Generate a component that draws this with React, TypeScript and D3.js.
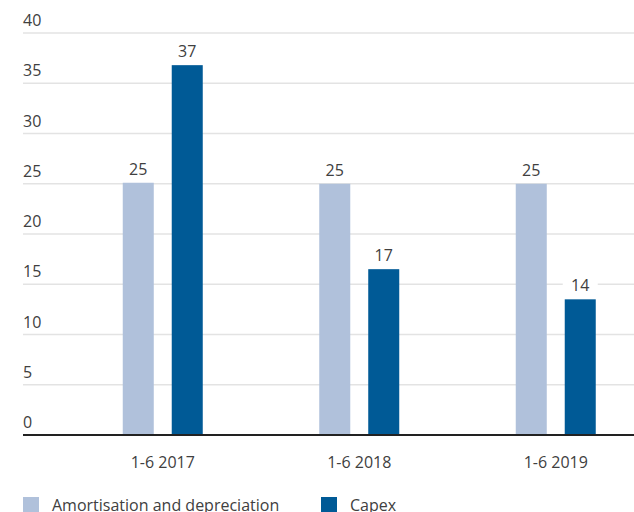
import React from "react";
import * as d3 from "d3";

const categories = ["1-6 2017", "1-6 2018", "1-6 2019"];
const seriesNames = ["Amortisation and depreciation", "Capex"];
const amortisation = [25.1, 25, 25];
const capex = [36.8, 16.5, 13.5];
const yTicks = [0, 5, 10, 15, 20, 25, 30, 35, 40];
const colors = ["#b0c1db", "#005a96"];

const W = 634;
const H = 512;
const FONT = "'Open Sans', sans-serif";
const TEXT = "#404040";

export default function App() {
  const y = d3.scaleLinear().domain([0, 40]).range([435, 33]);
  const x0 = d3.scaleBand<string>().domain(categories).range([64.5, 654]).padding(0);
  const x1 = d3
    .scaleBand<string>()
    .domain(seriesNames)
    .range([-40, 40])
    .paddingInner(0.367)
    .paddingOuter(0);
  const seriesValues = [amortisation, capex];

  return (
    <svg
      width={W}
      height={H}
      style={{ position: "absolute", left: 0, top: 0, display: "block" }}
      fontFamily={FONT}
    >
      <rect width={W} height={H} fill="#fff" />
      {yTicks.map((t) => (
        <g key={t}>
          {t !== 0 && (
            <line x1={23} x2={W} y1={y(t)} y2={y(t)} stroke="#e3e3e3" strokeWidth={1.3} />
          )}
          <text x={23} y={y(t) - 7} fontSize={16} fill={TEXT}>
            {t}
          </text>
        </g>
      ))}
      {categories.map((c, i) => {
        const cx = (x0(c) as number) + x0.bandwidth() / 2;
        return (
          <g key={c}>
            {seriesNames.map((s, j) => {
              const v = seriesValues[j][i];
              const bx = cx + (x1(s) as number);
              const bw = x1.bandwidth();
              return (
                <g key={s}>
                  <rect x={bx} y={y(v)} width={bw} height={y(0) - y(v)} fill={colors[j]} />
                  <rect x={bx - 2} y={y(v) - 26} width={bw + 4} height={20} fill="#fff" />
                  <text
                    x={bx + bw / 2}
                    y={y(v) - 8}
                    textAnchor="middle"
                    fontSize={16}
                    fill={TEXT}
                  >
                    {Math.round(v)}
                  </text>
                </g>
              );
            })}
            <text x={cx} y={468} textAnchor="middle" fontSize={16} fill={TEXT}>
              {c}
            </text>
          </g>
        );
      })}
      <line x1={23} x2={W} y1={y(0)} y2={y(0)} stroke="#222" strokeWidth={2.2} />
      {seriesNames.map((s, j) => {
        const lx = j === 0 ? 23 : 321;
        return (
          <g key={s}>
            <rect x={lx} y={497} width={16} height={16} fill={colors[j]} />
            <text x={lx + 29} y={511} fontSize={16} fill={TEXT}>
              {s}
            </text>
          </g>
        );
      })}
    </svg>
  );
}
